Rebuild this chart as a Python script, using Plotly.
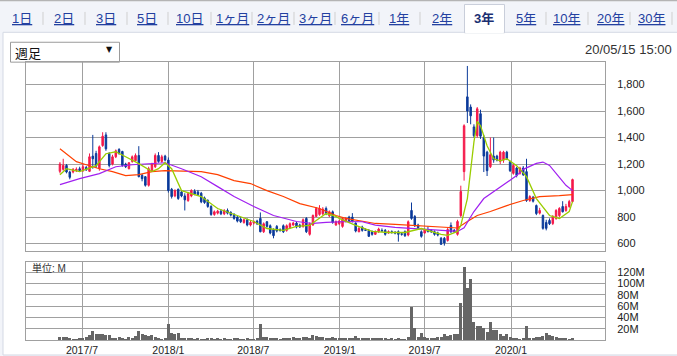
import plotly.graph_objects as go
import pandas as pd

# ---------------- DATA ----------------
week_dates = pd.date_range("2017-05-15", periods=157, freq="7D")

opens = [1145,1160,1190,1140,1140,1150,1165,1150,1175,1145,1260,1280,1165,1340,1420,1280,1200,1255,1310,1295,
         1200,1165,1220,1225,1265,1115,1105,1040,1150,1180,1265,1220,1260,1230,1010,960,1010,990,960,925,
         960,995,990,980,945,925,880,820,830,845,825,850,835,820,800,785,760,780,740,755,
         770,790,690,765,735,705,730,705,735,700,720,740,755,740,730,790,670,740,805,820,
         825,865,810,840,740,750,730,770,800,800,755,690,725,705,700,690,670,690,700,700,
         680,690,685,690,675,690,665,850,805,740,690,680,705,700,690,680,640,640,624,737,
         700,670,812,1143,1707,1630,1480,1414,1580,1400,1290,1180,1260,1260,1220,1230,1290,1218,1130,1170,
         1130,1170,1143,925,950,887,830,812,760,775,752,790,812,880,850,880,917]
highs = [1215,1240,1200,1150,1170,1175,1180,1200,1185,1280,1420,1300,1340,1440,1440,1290,1270,1310,1320,1300,
         1210,1215,1265,1280,1335,1125,1110,1180,1210,1280,1290,1270,1270,1250,1020,1010,1015,1000,980,990,
         1010,1010,1005,990,955,935,890,850,855,860,860,865,845,830,810,800,790,790,775,775,
         780,835,760,770,745,715,740,715,745,745,760,765,765,750,790,800,760,820,875,890,
         875,880,850,850,775,780,800,800,810,830,760,725,735,715,710,700,700,720,715,710,
         700,700,695,700,685,700,775,910,815,750,700,715,730,710,700,690,650,650,720,760,
         710,780,1037,1500,1940,1650,1500,1630,1610,1420,1300,1400,1400,1270,1300,1300,1300,1225,1200,1180,
         1180,1185,1240,965,960,895,870,820,780,790,815,860,875,920,900,930,1090]
lows = [1130,1150,1130,1085,1130,1140,1140,1140,1150,1140,1165,1170,1150,1330,1300,1175,1190,1245,1270,1180,
        1170,1160,1210,1220,1100,1070,1030,1030,1140,1170,1210,1210,1220,985,940,950,930,950,850,915,
        950,965,960,905,900,870,810,810,820,815,815,820,805,780,760,755,750,730,730,745,
        740,685,680,720,670,640,685,690,680,690,715,735,715,720,720,680,660,735,800,810,
        815,815,800,750,735,740,720,760,755,760,685,685,690,695,650,660,665,680,690,660,
        675,675,670,615,660,650,655,780,725,710,645,675,685,680,660,655,590,585,615,680,
        680,660,800,1075,1510,1500,1400,1400,1390,1140,1110,1170,1210,1220,1200,1210,1230,1140,1120,1100,
        1120,1110,915,915,910,815,820,705,700,740,740,780,800,835,840,870,910]
closes = [1200,1190,1140,1100,1160,1160,1150,1180,1155,1255,1240,1185,1330,1410,1315,1190,1255,1300,1280,1190,
          1180,1210,1255,1265,1105,1090,1040,1165,1200,1265,1220,1255,1230,1000,955,1000,940,960,930,977,
          1000,975,970,915,910,880,820,840,845,825,850,830,815,790,770,765,780,740,760,765,
          750,690,750,730,680,660,695,700,690,735,750,755,725,725,780,690,750,812,865,865,
          860,825,840,760,765,770,790,790,760,770,695,715,700,700,655,670,690,710,695,670,
          690,685,680,670,670,660,765,790,735,720,655,705,690,690,670,665,595,605,707,690,
          690,767,993,1489,1600,1564,1414,1617,1410,1260,1150,1270,1230,1230,1290,1290,1240,1150,1190,1115,
          1170,1120,925,955,920,827,850,715,715,750,805,850,865,840,880,917,1083]

# volume, millions of shares
volumes = [7,6,6,4,3,3,4,5,6,9,16,11,11,11,10,9,4,4,6,4,
           3,6,4,8,16,12,9,8,10,6,4,3,4,30,14,12,13,5,4,4,
           4,3,4,3,3,4,4,3,4,3,4,3,3,4,4,3,3,4,3,3,
           4,30,6,6,5,4,4,3,5,4,4,6,5,5,6,7,5,10,8,7,
           6,5,5,6,4,4,5,5,4,5,8,4,4,4,4,5,4,4,4,4,
           3,4,3,4,3,3,7,60,23,6,14,6,4,4,4,6,7,11,8,10,
           12,12,67,129,92,109,33,25,25,22,15,33,19,19,11,8,12,6,5,5,
           3,5,26,5,4,6,7,8,14,10,8,7,4,4,5,3,4]

# moving averages (week index -> value)
ma_short_idx = [0,2,6,11,14,17,20,24,28,30,32,34,37,40,43,48,53,59,63,68,72,76,78,81,84,85,90,95,100,105,
                110,116,118,121,122,124,126,127,128,130,132,134,136,139,142,145,149,152,155,156]
ma_short = [1120,1165,1143,1188,1278,1293,1255,1203,1143,1165,1210,1165,1000,977,955,865,820,767,714,700,
            730,737,775,827,805,790,737,692,684,684,714,670,662,692,737,940,1368,1522,1489,1338,
            1240,1225,1240,1188,1105,940,812,790,842,917]
ma_mid_idx = [0,6,12,17,22,27,32,37,43,48,53,59,65,72,77,81,84,88,92,96,102,107,115,121,123,126,129,136,
              139,141,145,147,149,152,154,156]
ma_mid = [1045,1090,1128,1180,1195,1203,1210,1165,1105,1030,955,880,812,767,752,760,765,767,765,740,
          722,714,700,692,720,842,940,1060,1113,1160,1205,1215,1190,1100,1040,1000]
ma_long_idx = [0,5,8,12,16,20,24,28,32,39,43,48,53,58,63,68,73,79,84,87,91,96,102,107,116,121,124,127,
               131,136,141,146,152,156]
ma_long = [1316,1218,1195,1165,1143,1113,1120,1143,1150,1143,1143,1120,1075,1053,1000,955,902,865,812,790,
           774,752,745,737,722,718,767,812,842,887,925,955,962,970]

price_ticks = [600, 800, 1000, 1200, 1400, 1600, 1800]
vol_ticks = [20, 40, 60, 80, 100, 120]
vol_tick_text = ["20M", "40M", "60M", "80M", "100M", "120M"]
x_tick_dates = ["2017-07-01", "2018-01-01", "2018-07-01", "2019-01-01", "2019-07-01", "2020-01-01"]
x_tick_text = ["2017/7", "2018/1", "2018/7", "2019/1", "2019/7", "2020/1"]
tab_labels = ["1日", "2日", "3日", "5日", "10日", "1ヶ月", "2ヶ月", "3ヶ月", "6ヶ月",
              "1年", "2年", "3年", "5年", "10年", "20年", "30年"]
selected_tab = "3年"
period_label = "週足"
timestamp = "20/05/15 15:00"
unit_label = "単位: M"

# ---------------- LAYOUT HELPERS ----------------
W, H = 677, 356
def fx(px):
    return px / W
def fy(py):
    return 1 - py / H

UP = "#f5194a"
DOWN = "#0b3a9a"
GRID = "#a0a0a0"
NUM_FONT = "Liberation Sans, Arial, sans-serif"
JP_FONT = "Liberation Sans, Noto Sans CJK JP, sans-serif"

x_range = ["2017-03-03 17:00", "2020-07-19 05:00"]

fig = go.Figure()

fig.add_trace(go.Candlestick(
    x=week_dates, open=opens, high=highs, low=lows, close=closes,
    increasing=dict(line=dict(color=UP, width=1), fillcolor=UP),
    decreasing=dict(line=dict(color=DOWN, width=1), fillcolor=DOWN),
    whiskerwidth=0, showlegend=False, hoverinfo="skip", xaxis="x", yaxis="y"))

for idx, vals, col, w in [(ma_long_idx, ma_long, "#ff4000", 1.2),
                          (ma_mid_idx, ma_mid, "#a020f0", 1.2),
                          (ma_short_idx, ma_short, "#9acd00", 1.3)]:
    fig.add_trace(go.Scatter(x=[week_dates[i] for i in idx], y=vals, mode="lines",
                             line=dict(color=col, width=w), showlegend=False,
                             hoverinfo="skip", xaxis="x", yaxis="y"))

fig.add_trace(go.Bar(x=week_dates, y=volumes, marker=dict(color="#666666", line=dict(width=0)),
                     width=6.2 * 86400000, showlegend=False, hoverinfo="skip",
                     xaxis="x2", yaxis="y2"))

axis_common = dict(showgrid=True, gridcolor=GRID, gridwidth=1, showline=True, mirror=True,
                   linecolor=GRID, linewidth=1, zeroline=False, fixedrange=True)

fig.update_layout(
    width=W, height=H, autosize=False,
    margin=dict(l=0, r=0, t=0, b=0),
    paper_bgcolor="#f2f4f9", plot_bgcolor="white",
    boxgap=0.35,
    bargap=0,
    xaxis=dict(domain=[fx(26), fx(605)], range=x_range, type="date", anchor="y",
               tickvals=x_tick_dates, showticklabels=False, rangeslider=dict(visible=False),
               **axis_common),
    yaxis=dict(domain=[fy(252), fy(62)], range=[547.5, 1972.5], side="right", anchor="x",
               tickvals=price_ticks, tickformat=",", ticks="outside", ticklen=9,
               tickcolor="rgba(0,0,0,0)",
               tickfont=dict(family=NUM_FONT, size=11, color="#222"), **axis_common),
    xaxis2=dict(domain=[fx(26), fx(605)], range=x_range, type="date", anchor="y2",
                tickvals=x_tick_dates, ticktext=x_tick_text, ticks="", 
                tickfont=dict(family=NUM_FONT, size=10.5, color="#222"), **axis_common),
    yaxis2=dict(domain=[fy(342), fy(263)], range=[0, 138.6], side="right", anchor="x2",
                tickvals=vol_ticks, ticktext=vol_tick_text, ticks="outside", ticklen=9,
                tickcolor="rgba(0,0,0,0)",
                tickfont=dict(family=NUM_FONT, size=11, color="#222"), **axis_common),
)

shapes = []
# content panel
shapes.append(dict(type="rect", xref="paper", yref="paper", x0=fx(3), x1=fx(678), y0=fy(357), y1=fy(32.5),
                   fillcolor="white", line=dict(color="#d4d9e4", width=1), layer="below"))
# top border
shapes.append(dict(type="line", xref="paper", yref="paper", x0=0, x1=1, y0=fy(0.5), y1=fy(0.5),
                   line=dict(color="#b4b4b4", width=1.5), layer="below"))
# selected tab
shapes.append(dict(type="rect", xref="paper", yref="paper", x0=fx(464.5), x1=fx(504.5), y0=fy(33), y1=fy(4.5),
                   fillcolor="white", line=dict(color="#c9ceda", width=1), layer="below"))
shapes.append(dict(type="line", xref="paper", yref="paper", x0=fx(465.2), x1=fx(503.8), y0=fy(32.5), y1=fy(32.5),
                   line=dict(color="white", width=2), layer="below"))
# tab separators
for sx in [43, 85, 127, 168, 211, 252, 294, 335, 379, 420, 546, 588, 630, 672]:
    shapes.append(dict(type="line", xref="paper", yref="paper", x0=fx(sx), x1=fx(sx), y0=fy(12), y1=fy(25),
                       line=dict(color="#cfcfcf", width=1), layer="below"))
# dropdown box
shapes.append(dict(type="rect", xref="paper", yref="paper", x0=fx(10.5), x1=fx(119.5), y0=fy(62.5), y1=fy(42.5),
                   fillcolor="white", line=dict(color="#9a9a9a", width=1), layer="below"))
fig.update_layout(shapes=shapes)

annotations = []
tab_centers = [22, 64, 106, 147, 189, 232, 273, 315, 357, 399, 442, 484, 526, 566, 610, 651]
for lbl, cx in zip(tab_labels, tab_centers):
    if lbl == selected_tab:
        annotations.append(dict(text="<b>" + lbl + "</b>", x=fx(cx), y=fy(18.5), xref="paper", yref="paper",
                                xanchor="center", yanchor="middle", showarrow=False,
                                font=dict(family=JP_FONT, size=13, color="#1b2f72")))
    else:
        annotations.append(dict(text=lbl, x=fx(cx), y=fy(18.5), xref="paper", yref="paper",
                                xanchor="center", yanchor="middle", showarrow=False,
                                font=dict(family=JP_FONT, size=13, color="#2340a0", lineposition="under")))
annotations.append(dict(text=period_label, x=fx(13), y=fy(53), xref="paper", yref="paper",
                        xanchor="left", yanchor="middle", showarrow=False,
                        font=dict(family="Noto Sans CJK JP", size=13, color="#111")))
annotations.append(dict(text="▼", x=fx(109), y=fy(50), xref="paper", yref="paper",
                        xanchor="center", yanchor="middle", showarrow=False,
                        font=dict(family="DejaVu Sans", size=8, color="#111")))
annotations.append(dict(text=timestamp, x=fx(674), y=fy(50), xref="paper", yref="paper",
                        xanchor="right", yanchor="middle", showarrow=False,
                        font=dict(family=NUM_FONT, size=13, color="#333")))
annotations.append(dict(text=unit_label, x=fx(30), y=fy(270), xref="paper", yref="paper",
                        xanchor="left", yanchor="middle", showarrow=False,
                        font=dict(family=JP_FONT, size=10, color="#333")))
fig.update_layout(annotations=annotations)

fig.write_html("out.html")
